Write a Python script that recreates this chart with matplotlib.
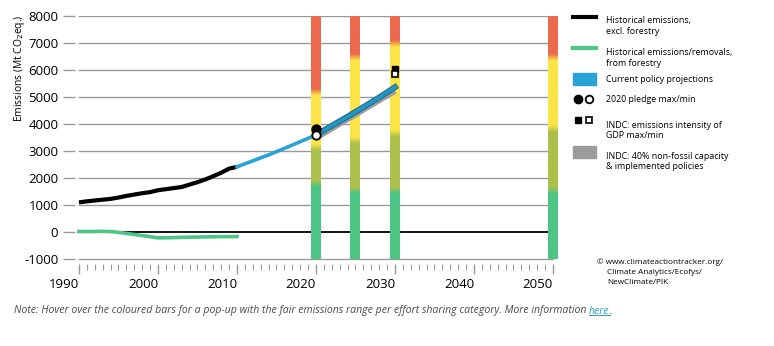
import numpy as np
import matplotlib

matplotlib.use("Agg")
import matplotlib.pyplot as plt  # noqa: E402
from matplotlib import patheffects as pe  # noqa: E402
from matplotlib.colors import to_rgb  # noqa: E402
from matplotlib.lines import Line2D  # noqa: E402
from matplotlib.transforms import IdentityTransform  # noqa: E402

plt.rcParams["font.family"] = ["Open Sans", "DejaVu Sans"]
plt.rcParams["axes.unicode_minus"] = False

# historical emissions excl. forestry (Mt CO2eq)
hist_years = list(range(1990, 2011))
hist_vals = [1080, 1120, 1150, 1180, 1210, 1260, 1320, 1370, 1420, 1460, 1530,
             1570, 1610, 1650, 1740, 1830, 1930, 2050, 2180, 2330, 2400]
# forestry emissions/removals
forest_vals = [0, 0, 0, 5, 0, -30, -70, -110, -150, -190, -235,
               -230, -225, -215, -210, -205, -200, -195, -190, -190, -185]
# current policy projections
proj_years = [2010, 2012, 2014, 2016, 2018, 2020, 2022, 2024, 2026, 2028, 2030]
proj_vals = [2400, 2620, 2840, 3080, 3330, 3580, 3920, 4260, 4610, 4970, 5350]
# INDC 40% non-fossil capacity
indc_years = [2020, 2030]
indc_vals = [3480, 5220]
# pledges
pledge_year = 2020
pledge_max, pledge_min = 3790, 3580
intensity_year = 2030
intensity_max, intensity_min = 6025, 5840
# fair-share bars: year, red/yellow, yellow/olive, olive/green boundaries
bar_years = [2020, 2025, 2030, 2050]
red_yellow = [5185, 6480, 6980, 6480]
yellow_olive = [3150, 3400, 3650, 3830]
olive_green = [1790, 1545, 1545, 1545]

RED, YELLOW, OLIVE, GREEN = "#EC6A4E", "#FDE447", "#ABC14C", "#4DC584"
BLUE = "#29A3D6"
GRID = "#9a9a9a"

W, H = 774, 346
fig = plt.figure(figsize=(W / 100, H / 100), dpi=100)
left, right, top, bottom = 75, 559.3, 15.7, 263.9
ax = fig.add_axes([left / W, 1 - bottom / H, (right - left) / W, (bottom - top) / H])
for s in ax.spines.values():
    s.set_visible(False)

# gridlines
for v in range(-1000, 8001, 1000):
    ax.plot([1990, 2050], [v, v], color="black" if v == 0 else GRID,
            lw=1.3 if v == 0 else 1.0, zorder=1)


def bar_column(b1, b2, b3, blend=120):
    vals = np.linspace(8000, -1000, 901)
    col = np.zeros((len(vals), 1, 3))
    for i, v in enumerate(vals):
        c = np.array(to_rgb(RED))
        for bnd, cl in [(b1, YELLOW), (b2, OLIVE), (b3, GREEN)]:
            t = np.clip((bnd + blend - v) / (2 * blend), 0, 1)
            c = c * (1 - t) + np.array(to_rgb(cl)) * t
        col[i, 0] = c
    return col


for yr, b1, b2, b3 in zip(bar_years, red_yellow, yellow_olive, olive_green):
    ax.imshow(bar_column(b1, b2, b3), extent=(yr - 0.63, yr + 0.63, -1000, 8000),
              aspect="auto", interpolation="bilinear", zorder=2)
ax.set_xlim(1989.5, 2050.8)
ax.set_ylim(-1200, 8000)

ax.plot(hist_years, hist_vals, color="black", lw=3, solid_capstyle="butt", zorder=4)
ax.plot(hist_years, forest_vals, color=GREEN, lw=2.6, zorder=4)
ax.plot(indc_years, indc_vals, color="#9c9c9c", lw=4.5, solid_capstyle="butt", zorder=4)
early = [i for i, y in enumerate(proj_years) if y <= 2020]
late = [i for i, y in enumerate(proj_years) if y >= 2020]
ax.plot([proj_years[i] for i in early], [proj_vals[i] for i in early],
        color=BLUE, lw=2.6, zorder=5)
ax.plot([proj_years[i] for i in late], [proj_vals[i] for i in late],
        color="#2596C4", lw=2.6, zorder=5,
        path_effects=[pe.Stroke(linewidth=4.2, foreground="#1d6f8e"), pe.Normal()])

ax.plot([pledge_year], [pledge_max], "o", color="black", ms=6.5, zorder=6)
ax.plot([pledge_year], [pledge_min], "o", mfc="white", mec="black", mew=1.3, ms=6, zorder=6)
ax.plot([intensity_year], [intensity_max], "s", color="black", ms=5, zorder=6)
ax.plot([intensity_year], [intensity_min], "s", mfc="white", mec="black", mew=1.2, ms=5, zorder=6)

# axes ticks
ax.set_yticks(range(-1000, 8001, 1000))
ax.tick_params(axis="y", length=9, width=1, color=GRID, pad=3, labelsize=9.5)
ax.set_xticks(range(1990, 2051, 10))
ax.set_xticks(range(1990, 2051, 1), minor=True)
ax.tick_params(axis="x", which="major", length=7.5, width=1, color=GRID, pad=3, labelsize=9.5)
ax.tick_params(axis="x", which="minor", length=4.5, width=0.8, color=GRID)
for lab in ax.get_xticklabels():
    lab.set_ha("right")

# overlay axes in pixel units for legend and notes
lax = fig.add_axes([0, 0, 1, 1], facecolor="none")
lax.set_xlim(0, W)
lax.set_ylim(H, 0)
lax.axis("off")
lax.text(20, 68, "Emissions (Mt CO$_2$eq.)", fontsize=7.4, rotation=90,
         ha="center", va="center")

fs = 6.4
tx = 606.5
lax.add_line(Line2D([573, 596], [16.7, 16.7], color="black", lw=3))
lax.text(tx, 16.5, "Historical emissions,\nexcl. forestry", fontsize=fs, va="top",
         linespacing=1.2)
lax.add_line(Line2D([573, 596], [48.3, 48.3], color=GREEN, lw=3))
lax.text(tx, 48.5, "Historical emissions/removals,\nfrom forestry", fontsize=fs, va="top",
         linespacing=1.2)
lax.add_patch(plt.Rectangle((573, 73), 23, 12, color=BLUE))
lax.text(tx, 79, "Current policy projections", fontsize=fs, va="center")
lax.plot([578], [99.3], "o", color="black", ms=6)
lax.plot([589], [99.3], "o", mfc="white", mec="black", mew=1.3, ms=5.5)
lax.text(tx, 99.3, "2020 pledge max/min", fontsize=fs, va="center")
lax.plot([578], [120], "s", color="black", ms=5)
lax.plot([589], [120], "s", mfc="white", mec="black", mew=1.2, ms=5)
lax.text(tx, 120.5, "INDC: emissions intensity of\nGDP max/min", fontsize=fs, va="top",
         linespacing=1.2)
lax.add_patch(plt.Rectangle((573, 146), 23, 12, color="#9c9c9c"))
lax.text(tx, 152, "INDC: 40% non-fossil capacity\n& implemented policies", fontsize=fs,
         va="top", linespacing=1.2)

lax.text(597, 262, "\u00a9 www.climateactiontracker.org/", fontsize=5.9, va="center")
lax.text(607, 272.7, "Climate Analytics/Ecofys/", fontsize=5.9, va="center")
lax.text(607, 283, "NewClimate/PIK", fontsize=5.9, va="center")

nfs = 7.6
base = H - 313.5
note = lax.text(14, 313.5, "Note: Hover over the coloured bars for a pop-up with the fair "
                "emissions range per effort sharing category. More information ",
                fontsize=nfs, style="italic", color="#4a4a4a", va="baseline")
fig.canvas.draw()
r = fig.canvas.get_renderer()
x_end = note.get_window_extent(r).x1
here = lax.text(x_end, base, "here", fontsize=nfs, style="italic", color="#2a9fd6",
                va="baseline", transform=IdentityTransform())
fig.canvas.draw()
hb = here.get_window_extent(r)
lax.add_line(Line2D([hb.x0, hb.x1], [base - 1.5, base - 1.5], color="#2a9fd6", lw=0.7,
                    transform=IdentityTransform()))
lax.text(hb.x1, base, ".", fontsize=nfs, style="italic", color="#4a4a4a",
         va="baseline", transform=IdentityTransform())

fig.savefig("out.png", dpi=100)
